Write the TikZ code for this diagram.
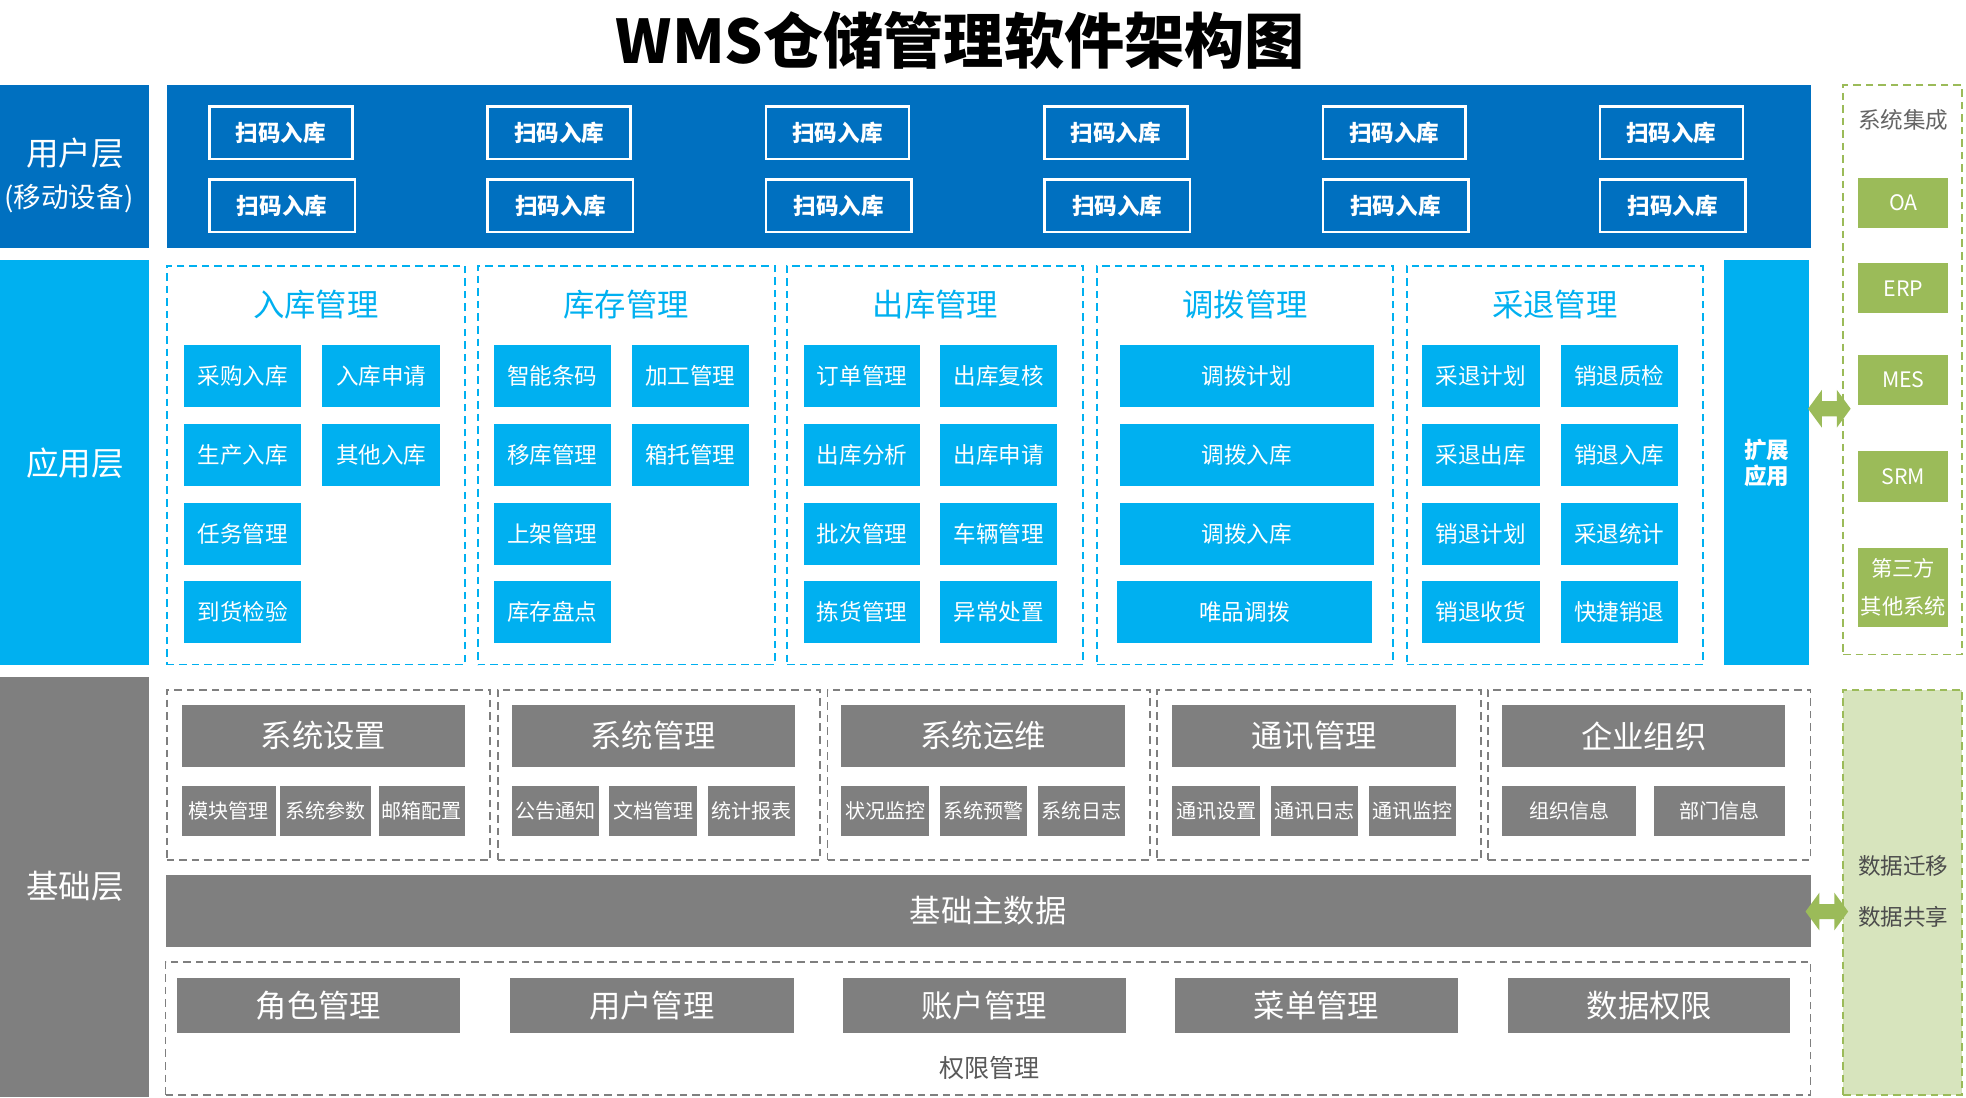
\documentclass[tikz,border=0pt]{standalone}
\usepackage{fontspec}
\setmainfont{Noto Sans CJK SC}
\usetikzlibrary{positioning}
\definecolor{dblue}{HTML}{0070C0}
\definecolor{lblue}{HTML}{00B0F0}
\definecolor{gry}{HTML}{7F7F7F}
\definecolor{grn}{HTML}{9BBB59}
\definecolor{lgrn}{HTML}{D7E4BD}
\newcommand\rb[7]{\node[#6,minimum width={(#4-#2)*1pt},minimum height={(#5-#3)*1pt}] (#1) at ({(#2+#4)/2},{(#3+#5)/2}) {#7};}
\newcommand\dbarrow[3]{% name, x center, y center
 \fill[grn] ({#2-17},#3) -- ({#2-6},{#3-15}) -- ({#2-6},{#3-6}) -- ({#2+6},{#3-6}) -- ({#2+6},{#3-15}) -- ({#2+17},#3) -- ({#2+6},{#3+15}) -- ({#2+6},{#3+6}) -- ({#2-6},{#3+6}) -- ({#2-6},{#3+15}) -- cycle;}
\begin{document}
\begin{tikzpicture}[x=1pt,y=-1pt,
 every node/.style={inner sep=0pt,align=center},
 scan/.style={draw=white,line width=2pt,text=white,font=\fontsize{18}{20}\selectfont\bfseries},
 abox/.style={fill=lblue,text=white,font=\fontsize{18}{20}\selectfont},
 atitle/.style={text=lblue,font=\fontsize{25}{28}\selectfont},
 adash/.style={draw=lblue,dashed,line width=1.5pt,dash pattern=on 6pt off 4pt},
 gdash/.style={draw=gry,dashed,line width=1.5pt,dash pattern=on 6pt off 4pt},
 ghead/.style={fill=gry,text=white,font=\fontsize{25}{28}\selectfont},
 gsub/.style={fill=gry,text=white,font=\fontsize{16}{19}\selectfont},
 gbox/.style={fill=grn,text=white,font=\fontsize{17}{30}\selectfont},
 layer/.style={text=white,font=\fontsize{26}{34}\selectfont}]
\useasboundingbox (0,0) rectangle (1568,875);
\fill[white] (0,0) rectangle (1568,875);
\node[font=\fontsize{48}{52}\selectfont\bfseries] (title) at (766,32) {WMS仓储管理软件架构图};
% user layer
\rb{ul}{0}{68}{119}{198}{fill=dblue}{}
\node[layer] (ult) at (60,122) {用户层};
\node[text=white,font=\fontsize{22}{26}\selectfont] (ult2) at (55,158) {(移动设备)};
\rb{um}{133}{68}{1444}{198}{fill=dblue}{}
\foreach \x [count=\i] in {167,389,611,833,1055,1276}{
 \rb{s1\i}{\x}{85}{\x+114}{127}{scan}{扫码入库}
 \rb{s2\i}{\x+1}{143}{\x+115}{185}{scan}{扫码入库}
}
% application layer
\rb{al}{0}{207}{119}{530}{fill=lblue}{}
\node[layer] (alt) at (60,369) {应用层};
\foreach \a/\b/\t [count=\i] in {133/371/入库管理,381/618/库存管理,628/864/出库管理,875/1111/调拨管理,1122/1358/采退管理}{
 \rb{g\i}{\a}{212}{\b}{530}{adash}{}
 \node[atitle] (gt\i) at ({(\a+\b)/2},243) {\t};
}
\rb{a11}{147}{275}{240}{325}{abox}{采购入库}
\rb{a12}{257}{275}{351}{325}{abox}{入库申请}
\rb{a13}{147}{338}{240}{388}{abox}{生产入库}
\rb{a14}{257}{338}{351}{388}{abox}{其他入库}
\rb{a15}{147}{401}{240}{451}{abox}{任务管理}
\rb{a16}{147}{463}{240}{513}{abox}{到货检验}
\rb{a21}{394}{275}{487}{325}{abox}{智能条码}
\rb{a22}{504}{275}{597}{325}{abox}{加工管理}
\rb{a23}{394}{338}{487}{388}{abox}{移库管理}
\rb{a24}{504}{338}{597}{388}{abox}{箱托管理}
\rb{a25}{394}{401}{487}{451}{abox}{上架管理}
\rb{a26}{394}{463}{487}{513}{abox}{库存盘点}
\rb{a31}{641}{275}{734}{325}{abox}{订单管理}
\rb{a32}{750}{275}{843}{325}{abox}{出库复核}
\rb{a33}{641}{338}{734}{388}{abox}{出库分析}
\rb{a34}{750}{338}{843}{388}{abox}{出库申请}
\rb{a35}{641}{401}{734}{451}{abox}{批次管理}
\rb{a36}{750}{401}{843}{451}{abox}{车辆管理}
\rb{a37}{641}{463}{734}{513}{abox}{拣货管理}
\rb{a38}{750}{463}{843}{513}{abox}{异常处置}
\rb{a41}{893}{275}{1096}{325}{abox}{调拨计划}
\rb{a42}{893}{338}{1096}{388}{abox}{调拨入库}
\rb{a43}{893}{401}{1096}{451}{abox}{调拨入库}
\rb{a44}{891}{463}{1094}{513}{abox}{唯品调拨}
\rb{a51}{1134}{275}{1228}{325}{abox}{采退计划}
\rb{a52}{1245}{275}{1338}{325}{abox}{销退质检}
\rb{a53}{1134}{338}{1228}{388}{abox}{采退出库}
\rb{a54}{1245}{338}{1338}{388}{abox}{销退入库}
\rb{a55}{1134}{401}{1228}{451}{abox}{销退计划}
\rb{a56}{1245}{401}{1338}{451}{abox}{采退统计}
\rb{a57}{1134}{463}{1228}{513}{abox}{销退收货}
\rb{a58}{1245}{463}{1338}{513}{abox}{快捷销退}
\rb{ext}{1375}{207}{1443}{530}{fill=lblue}{}
\node[text=white,font=\fontsize{18}{21}\selectfont\bfseries] (extt) at (1409,369) {扩展\\应用};
% integration
\rb{integ}{1470}{68}{1565}{522}{draw=grn,dashed,line width=1.5pt,dash pattern=on 6pt off 4pt}{}
\node[text=gry!80!black,font=\fontsize{18}{20}\selectfont] (integt) at (1518,96) {系统集成};
\rb{oa}{1482}{142}{1554}{182}{gbox}{OA}
\rb{erp}{1482}{210}{1554}{250}{gbox}{ERP}
\rb{mes}{1482}{283}{1554}{323}{gbox}{MES}
\rb{srm}{1482}{360}{1554}{400}{gbox}{SRM}
\rb{oth}{1482}{437}{1554}{500}{gbox}{第三方\\其他系统}
\dbarrow{ar1}{1459}{326}
% base layer
\rb{bl}{0}{540}{119}{875}{fill=gry}{}
\node[layer] (blt) at (60,707) {基础层};
\foreach \a/\b [count=\i] in {133/391,397/654,660/917,923/1181,1187/1444}{
 \rb{bg\i}{\a}{550}{\b}{686}{gdash}{}
}
\rb{h1}{145}{562}{371}{612}{ghead}{系统设置}
\rb{h2}{408}{562}{634}{612}{ghead}{系统管理}
\rb{h3}{671}{562}{897}{612}{ghead}{系统运维}
\rb{h4}{935}{562}{1161}{612}{ghead}{通讯管理}
\rb{h5}{1198}{562}{1424}{612}{ghead}{企业组织}
\rb{b11}{145}{627}{220}{667}{gsub}{模块管理}
\rb{b12}{223}{627}{296}{667}{gsub}{系统参数}
\rb{b13}{302}{627}{371}{667}{gsub}{邮箱配置}
\rb{b21}{408}{627}{478}{667}{gsub}{公告通知}
\rb{b22}{486}{627}{556}{667}{gsub}{文档管理}
\rb{b23}{565}{627}{634}{667}{gsub}{统计报表}
\rb{b31}{671}{627}{741}{667}{gsub}{状况监控}
\rb{b32}{750}{627}{819}{667}{gsub}{系统预警}
\rb{b33}{828}{627}{897}{667}{gsub}{系统日志}
\rb{b41}{935}{627}{1005}{667}{gsub}{通讯设置}
\rb{b42}{1014}{627}{1083}{667}{gsub}{通讯日志}
\rb{b43}{1092}{627}{1161}{667}{gsub}{通讯监控}
\rb{b51}{1198}{627}{1305}{667}{gsub}{组织信息}
\rb{b52}{1319}{627}{1424}{667}{gsub}{部门信息}
\rb{md}{132}{698}{1444}{755}{ghead}{基础主数据}
\rb{perm}{132}{767}{1444}{873}{gdash}{}
\rb{p1}{141}{780}{367}{824}{ghead}{角色管理}
\rb{p2}{407}{780}{633}{824}{ghead}{用户管理}
\rb{p3}{672}{780}{898}{824}{ghead}{账户管理}
\rb{p4}{937}{780}{1163}{824}{ghead}{菜单管理}
\rb{p5}{1203}{780}{1428}{824}{ghead}{数据权限}
\node[text=gry!70!black,font=\fontsize{20}{22}\selectfont] (permt) at (789,852) {权限管理};
\rb{data}{1470}{550}{1565}{873}{fill=lgrn,draw=grn,dashed,line width=1.5pt,dash pattern=on 6pt off 4pt}{}
\node[text=gry!60!black,font=\fontsize{18}{20}\selectfont] (dt1) at (1518,691) {数据迁移};
\node[text=gry!60!black,font=\fontsize{18}{20}\selectfont] (dt2) at (1518,731) {数据共享};
\dbarrow{ar2}{1457}{727}
\end{tikzpicture}
\end{document}
